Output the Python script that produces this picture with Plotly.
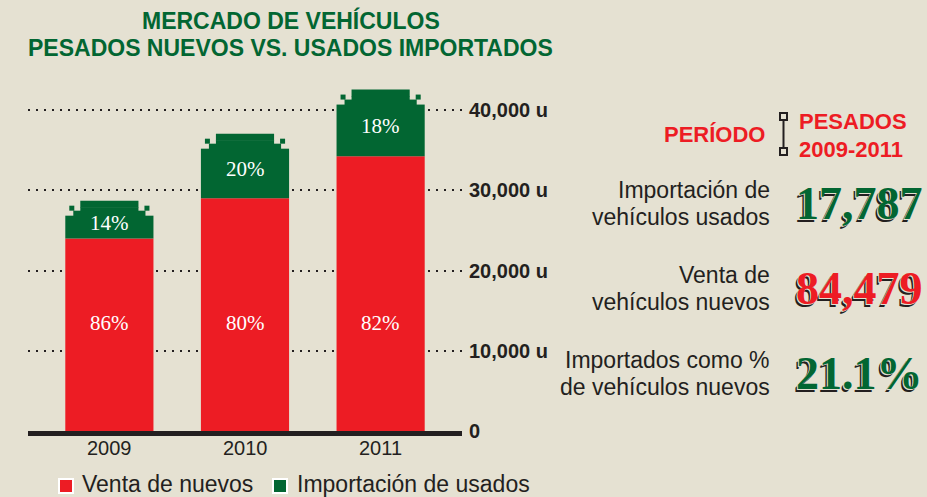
import plotly.graph_objects as go

# ---------------- data ----------------
years = ["2009", "2010", "2011"]
nuevos = [24000, 29000, 34250]        # Venta de nuevos
usados = [3900, 7250, 7500]           # Importación de usados
pct_nuevos = ["86%", "80%", "82%"]
pct_usados = ["14%", "20%", "18%"]
y_tickvals = [0, 10000, 20000, 30000, 40000]
y_ticktext = ["0", "10,000 u", "20,000 u", "30,000 u", "40,000 u"]
series_names = ["Venta de nuevos", "Importación de usados"]

total_usados = "17,787"
total_nuevos = "84,479"
pct_total = "21.1%"

# ---------------- style ----------------
BG = "#e5e1d2"
RED = "#ed1c24"
GREEN = "#026632"
DARK = "#231f20"
W, H = 927, 497
ML, MR, MT, MB = 28, 465, 70, 66
PW, PH = W - ML - MR, H - MT - MB
XR = [-0.6, 2.6]
YR = [0, 45000]
BARW = 0.65
SANS = "Liberation Sans, Arial, sans-serif"
SERIF = "Liberation Serif, Times New Roman, serif"

ux = (XR[1] - XR[0]) / PW   # x units per pixel
uy = (YR[1] - YR[0]) / PH   # y units per pixel


def px(x, y):
    return (x - ML) / PW, (H - MB - y) / PH


def text_at(x, y, text, anchor, size, color, family=SANS, weight="normal", shadow=None):
    a, b = px(x, y)
    f = dict(family=family, size=size, color=color, weight=weight)
    if shadow:
        f["shadow"] = shadow
    return dict(x=a, y=b, xref="paper", yref="paper", xanchor=anchor, yanchor="middle",
                text=text, showarrow=False, font=f)


xs = list(range(len(years)))
fig = go.Figure()
fig.add_trace(go.Bar(x=xs, y=nuevos, width=BARW, name=series_names[0],
                     marker=dict(color=RED, line=dict(width=0)), hoverinfo="skip"))
fig.add_trace(go.Bar(x=xs, y=usados, base=nuevos, width=BARW, name=series_names[1],
                     marker=dict(color=GREEN, line=dict(width=0)), hoverinfo="skip"))

shapes = []
annotations = []
for i, (n, u) in enumerate(zip(nuevos, usados)):
    t = n + u
    L, R = i - BARW / 2, i + BARW / 2
    # carve stepped corners
    for (a, b) in [(L - 1 * ux, L + 8 * ux), (R - 8 * ux, R + 1 * ux)]:
        shapes.append(dict(type="rect", xref="x", yref="y", x0=a, x1=b, y0=t - 8.5 * uy, y1=t + 0.5 * uy,
                           fillcolor=BG, line=dict(width=0)))
    for (a, b) in [(L + 8 * ux, L + 15 * ux), (R - 15 * ux, R - 8 * ux)]:
        shapes.append(dict(type="rect", xref="x", yref="y", x0=a, x1=b, y0=t - 3.5 * uy, y1=t + 0.5 * uy,
                           fillcolor=BG, line=dict(width=0)))
    # small squares
    for (a, b) in [(L + 4 * ux, L + 9 * ux), (R - 9 * ux, R - 4 * ux)]:
        shapes.append(dict(type="rect", xref="x", yref="y", x0=a, x1=b, y0=t - 3.5 * uy, y1=t + 1.5 * uy,
                           fillcolor=GREEN, line=dict(width=0)))
    # narrow top
    shapes.append(dict(type="rect", xref="x", yref="y", x0=L + 15 * ux, x1=R - 15 * ux,
                       y0=t - 0.5 * uy, y1=t + 6.5 * uy, fillcolor=GREEN, line=dict(width=0)))
    # percentage labels
    annotations.append(dict(x=i, y=13450, xref="x", yref="y", text=pct_nuevos[i], showarrow=False,
                            font=dict(family=SERIF, size=21, color="white")))
    annotations.append(dict(x=i, y=n + u / 2, xref="x", yref="y", text=pct_usados[i], showarrow=False,
                            font=dict(family=SERIF, size=21, color="white")))
    # year label under the axis
    annotations.append(dict(x=i, y=px(0, 448)[1], xref="x", yref="paper", yanchor="middle",
                            text=years[i], showarrow=False,
                            font=dict(family=SANS, size=20, color=DARK)))

# title
annotations.append(text_at(291, 20, "MERCADO DE VEHÍCULOS", "center", 23, GREEN, weight="bold"))
annotations.append(text_at(290, 48, "PESADOS NUEVOS VS. USADOS IMPORTADOS", "center", 23, GREEN, weight="bold"))

# legend (manual)
for (sx, tx, col, name) in [(59, 80, RED, series_names[0]), (273, 295, GREEN, series_names[1])]:
    a0, b0 = px(sx, 493)
    a1, b1 = px(sx + 14, 479)
    shapes.append(dict(type="rect", xref="paper", yref="paper", x0=a0, x1=a1, y0=b0, y1=b1,
                       fillcolor=col, line=dict(color="white", width=2)))
    annotations.append(text_at(tx, 484, name, "left", 23, DARK))

# right panel
annotations.append(text_at(767, 134, "PERÍODO", "right", 22, RED, weight="bold"))
annotations.append(text_at(797, 121, "PESADOS", "left", 22, RED, weight="bold"))
annotations.append(text_at(797, 149, "2009-2011", "left", 22, RED, weight="bold"))
# bracket icon
for (y0, y1) in [(113, 120), (148, 155)]:
    a0, b0 = px(780, y1)
    a1, b1 = px(787, y0)
    shapes.append(dict(type="rect", xref="paper", yref="paper", x0=a0, x1=a1, y0=b0, y1=b1,
                       line=dict(color=DARK, width=2), fillcolor="rgba(0,0,0,0)"))
a0, b0 = px(783.5, 120)
a1, b1 = px(783.5, 148)
shapes.append(dict(type="line", xref="paper", yref="paper", x0=a0, x1=a1, y0=b0, y1=b1,
                   line=dict(color=DARK, width=2)))

labels = [(("Importación de", "vehículos usados"), 190, total_usados, GREEN),
          (("Venta de", "vehículos nuevos"), 275, total_nuevos, RED),
          (("Importados como %", "de vehículos nuevos"), 360, pct_total, GREEN)]
for (l1, l2), yc, num, col in labels:
    annotations.append(text_at(772, yc, l1, "right", 23, DARK))
    annotations.append(text_at(772, yc + 27, l2, "right", 23, DARK))
    annotations.append(text_at(794, yc + 13, num, "left", 46, col, family=SERIF, weight="bold",
                               shadow="-1px 1px 0 %s, -2.5px 2.5px 0 %s" % (BG, DARK)))

fig.update_layout(
    width=W, height=H, margin=dict(l=ML, r=MR, t=MT, b=MB, autoexpand=False),
    paper_bgcolor=BG, plot_bgcolor=BG,
    barmode="overlay", showlegend=False,
    shapes=shapes, annotations=annotations,
    xaxis=dict(range=XR, tickvals=xs, showticklabels=False, showgrid=False, zeroline=False,
               showline=True, linecolor=DARK, linewidth=5, ticks="", fixedrange=True),
    yaxis=dict(range=YR, side="right", tickvals=y_tickvals, ticktext=y_ticktext,
               showgrid=True, gridcolor=DARK, gridwidth=2, griddash="2px,6px",
               zeroline=False, showline=False, ticks="outside", ticklen=2, tickcolor="rgba(0,0,0,0)",
               tickfont=dict(family=SANS, size=20, color=DARK, weight="bold"), fixedrange=True),
)

fig.write_html("out.html", config={"displayModeBar": False},
               post_script="document.body.style.margin='0px';document.body.style.overflow='hidden';")
